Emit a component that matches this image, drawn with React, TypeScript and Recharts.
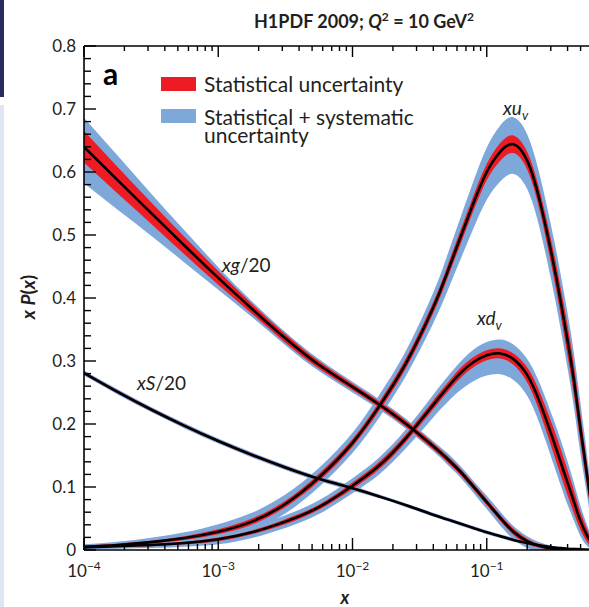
import React from 'react';
import { ComposedChart, Area, Line, XAxis, YAxis } from 'recharts';

// x grid (log-spaced sample points)
const xValues = [1e-4, 1.78e-4, 3.16e-4, 5.62e-4, 1e-3, 1.78e-3, 3.16e-3, 5.62e-3, 1e-2, 1.58e-2, 2.51e-2, 3.98e-2, 5.01e-2, 6.31e-2, 7.94e-2, 0.1, 0.126, 0.158, 0.2, 0.251, 0.316, 0.355, 0.398, 0.447, 0.501, 0.562, 0.631, 0.794, 1.0];

// xg/20
const xgCentral = [0.640, 0.587, 0.535, 0.483, 0.432, 0.383, 0.336, 0.294, 0.259, 0.231, 0.200, 0.165, 0.146, 0.125, 0.101, 0.076, 0.051, 0.029, 0.014, 0.006, 0.002, 0.001, 0, 0, 0, 0, 0, 0, 0];
const xgStat = [0.025, 0.021, 0.017, 0.014, 0.011, 0.008, 0.007, 0.006, 0.005, 0.005, 0.005, 0.005, 0.005, 0.005, 0.005, 0.005, 0.005, 0.005, 0.004, 0.003, 0.002, 0.002, 0.001, 0.001, 0.001, 0.001, 0.001, 0, 0];
const xgTotUp = [0.046, 0.039, 0.031, 0.024, 0.017, 0.012, 0.010, 0.009, 0.008, 0.008, 0.008, 0.008, 0.009, 0.009, 0.009, 0.010, 0.010, 0.009, 0.008, 0.006, 0.004, 0.003, 0.002, 0.002, 0.002, 0.002, 0.002, 0, 0];
const xgTotDown = [0.058, 0.047, 0.036, 0.027, 0.019, 0.013, 0.011, 0.010, 0.009, 0.008, 0.008, 0.008, 0.009, 0.009, 0.010, 0.011, 0.012, 0.012, 0.011, 0.009, 0.006, 0.005, 0.004, 0.003, 0.003, 0.002, 0.002, 0, 0];

// xS/20
const xsCentral = [0.281, 0.251, 0.223, 0.197, 0.173, 0.151, 0.131, 0.113, 0.098, 0.085, 0.071, 0.056, 0.049, 0.042, 0.035, 0.028, 0.022, 0.016, 0.011, 0.007, 0.004, 0.003, 0.002, 0.0015, 0.001, 0.0005, 0, 0, 0];
const xsStat = [0.002, 0.002, 0.002, 0.002, 0.002, 0.002, 0.002, 0.002, 0.002, 0.0015, 0.0015, 0.0015, 0.0015, 0.0015, 0.0015, 0.0015, 0.0015, 0.0015, 0.001, 0.001, 0.001, 0.001, 0.001, 0.001, 0.001, 0.001, 0, 0, 0];
const xsTotUp = [0.004, 0.004, 0.004, 0.004, 0.004, 0.004, 0.004, 0.004, 0.004, 0.003, 0.003, 0.003, 0.003, 0.003, 0.003, 0.003, 0.003, 0.003, 0.002, 0.002, 0.002, 0.002, 0.002, 0.002, 0.002, 0.001, 0, 0, 0];
const xsTotDown = [0.004, 0.004, 0.004, 0.004, 0.004, 0.004, 0.004, 0.004, 0.004, 0.003, 0.003, 0.003, 0.003, 0.003, 0.003, 0.003, 0.003, 0.003, 0.002, 0.002, 0.002, 0.002, 0.002, 0.002, 0.002, 0.001, 0, 0, 0];

// xu_v
const xuvCentral = [0.005, 0.008, 0.0125, 0.019, 0.029, 0.045, 0.073, 0.115, 0.170, 0.228, 0.297, 0.384, 0.437, 0.494, 0.550, 0.600, 0.632, 0.644, 0.618, 0.550, 0.452, 0.395, 0.335, 0.268, 0.190, 0.115, 0.055, 0.012, 0];
const xuvStat = [0.002, 0.002, 0.002, 0.003, 0.004, 0.005, 0.005, 0.006, 0.006, 0.007, 0.008, 0.009, 0.010, 0.011, 0.012, 0.013, 0.014, 0.014, 0.014, 0.016, 0.020, 0.022, 0.024, 0.024, 0.022, 0.018, 0.012, 0.004, 0];
const xuvTotUp = [0.004, 0.005, 0.007, 0.009, 0.012, 0.014, 0.015, 0.015, 0.016, 0.018, 0.020, 0.024, 0.027, 0.031, 0.035, 0.039, 0.042, 0.043, 0.042, 0.041, 0.042, 0.043, 0.044, 0.043, 0.040, 0.032, 0.022, 0.008, 0];
const xuvTotDown = [0.004, 0.005, 0.007, 0.009, 0.012, 0.014, 0.015, 0.015, 0.016, 0.018, 0.020, 0.025, 0.030, 0.035, 0.040, 0.044, 0.047, 0.047, 0.045, 0.044, 0.044, 0.044, 0.044, 0.043, 0.040, 0.032, 0.022, 0.008, 0];

// xd_v
const xdvCentral = [0.004, 0.006, 0.008, 0.011, 0.017, 0.028, 0.045, 0.068, 0.102, 0.134, 0.178, 0.230, 0.256, 0.280, 0.298, 0.309, 0.312, 0.303, 0.278, 0.232, 0.172, 0.140, 0.108, 0.076, 0.045, 0.022, 0.009, 0.001, 0];
const xdvStat = [0.001, 0.001, 0.002, 0.002, 0.003, 0.003, 0.004, 0.004, 0.005, 0.006, 0.006, 0.007, 0.007, 0.008, 0.008, 0.008, 0.008, 0.009, 0.012, 0.016, 0.020, 0.021, 0.020, 0.018, 0.014, 0.010, 0.005, 0.001, 0];
const xdvTotUp = [0.003, 0.004, 0.005, 0.006, 0.008, 0.009, 0.010, 0.011, 0.012, 0.013, 0.014, 0.016, 0.017, 0.018, 0.020, 0.021, 0.022, 0.023, 0.025, 0.030, 0.034, 0.035, 0.034, 0.030, 0.024, 0.016, 0.008, 0.002, 0];
const xdvTotDown = [0.003, 0.004, 0.005, 0.006, 0.008, 0.009, 0.010, 0.011, 0.012, 0.014, 0.016, 0.020, 0.023, 0.027, 0.030, 0.032, 0.033, 0.033, 0.033, 0.035, 0.037, 0.037, 0.035, 0.030, 0.024, 0.016, 0.008, 0.002, 0];

// axis ticks
const xMajorTicks = [1e-4, 1e-3, 1e-2, 1e-1, 1];
const xMajorLabels = ['−4', '−3', '−2', '−1', ''];
const yMajorTicks = [0, 0.1, 0.2, 0.3, 0.4, 0.5, 0.6, 0.7, 0.8];
const yMajorLabels = ['0', '0.1', '0.2', '0.3', '0.4', '0.5', '0.6', '0.7', '0.8'];

const xAllTicks: number[] = [];
[1e-4, 1e-3, 1e-2, 1e-1].forEach((d) => {
  for (let k = 1; k <= 9; k++) xAllTicks.push(+(k * d).toPrecision(3));
});
xAllTicks.push(1);
const yAllTicks: number[] = [];
for (let i = 0; i <= 40; i++) yAllTicks.push(+(i * 0.02).toFixed(2));

const series = [
  { key: 'xg', c: xgCentral, s: xgStat, u: xgTotUp, d: xgTotDown },
  { key: 'xs', c: xsCentral, s: xsStat, u: xsTotUp, d: xsTotDown },
  { key: 'xuv', c: xuvCentral, s: xuvStat, u: xuvTotUp, d: xuvTotDown },
  { key: 'xdv', c: xdvCentral, s: xdvStat, u: xdvTotUp, d: xdvTotDown },
];

const rows = xValues.map((x, i) => {
  const r: any = { x };
  series.forEach((sr) => {
    const c = sr.c[i];
    r[sr.key] = c;
    r[sr.key + 'Stat'] = [c - sr.s[i], c + sr.s[i]];
    r[sr.key + 'Tot'] = [c - sr.d[i], c + sr.u[i]];
  });
  return r;
});

const BLUE = '#7ea8da';
const RED = '#ed1c24';
const INK = '#231f20';
const FONT = 'Lato, "Open Sans", sans-serif';
const CURVE = 'natural';

const isMajorX = (v: number) => xMajorTicks.some((m) => Math.abs(v - m) / m < 1e-6);
const isMajorY = (v: number) => yMajorTicks.some((m) => Math.abs(v - m) < 1e-6);

const XBottomTick = (props: any) => {
  const { x, y, payload } = props;
  const v = payload.value;
  const major = isMajorX(v);
  const idx = xMajorTicks.findIndex((m) => Math.abs(v - m) / m < 1e-6);
  return (
    <g>
      <line x1={x} x2={x} y1={y} y2={y - (major ? 12 : 6)} stroke="#000" strokeWidth={1.4} />
      {major && idx >= 0 && xMajorLabels[idx] !== '' && (
        <text x={x} y={y + 27} textAnchor="middle" fontFamily={FONT} fontSize={17} fill={INK}>
          10
          <tspan dy={-7} fontSize={12}>{xMajorLabels[idx]}</tspan>
        </text>
      )}
    </g>
  );
};

const XTopTick = (props: any) => {
  const { x, y, payload } = props;
  const major = isMajorX(payload.value);
  return <line x1={x} x2={x} y1={y} y2={y + (major ? 11 : 5)} stroke="#000" strokeWidth={1.4} />;
};

const YLeftTick = (props: any) => {
  const { x, y, payload } = props;
  const v = payload.value;
  const major = isMajorY(v);
  const idx = yMajorTicks.findIndex((m) => Math.abs(v - m) < 1e-6);
  return (
    <g>
      <line x1={x} x2={x + (major ? 12 : 7)} y1={y} y2={y} stroke="#000" strokeWidth={1.4} />
      {major && idx >= 0 && (
        <text x={x - 8} y={y} dy="0.36em" textAnchor="end" fontFamily={FONT} fontSize={17} fill={INK}>
          {yMajorLabels[idx]}
        </text>
      )}
    </g>
  );
};

export default function App() {
  return (
    <div style={{ position: 'fixed', left: 0, top: 0, width: 589, height: 607, overflow: 'hidden', background: '#fff' }}>
      <div style={{ position: 'absolute', left: 0, top: 0, width: 4, height: 97, background: '#2b2a5c' }} />
      <div style={{ position: 'absolute', left: 0, top: 105, width: 4, height: 502, background: '#dfe6f1' }} />
      <div style={{ position: 'absolute', left: 0, top: 0 }}>
        <ComposedChart width={640} height={607} data={rows} margin={{ top: 26, right: 19, bottom: 27, left: 24 }}>
          <XAxis
            xAxisId="b"
            dataKey="x"
            type="number"
            scale="log"
            domain={[1e-4, 1]}
            allowDataOverflow
            ticks={xAllTicks}
            interval={0}
            tickSize={0}
            tickMargin={0}
            tickLine={false}
            tick={<XBottomTick />}
            axisLine={{ stroke: '#000', strokeWidth: 1.6 }}
            height={30}
          />
          <XAxis
            xAxisId="t"
            orientation="top"
            dataKey="x"
            type="number"
            scale="log"
            domain={[1e-4, 1]}
            allowDataOverflow
            ticks={xAllTicks}
            interval={0}
            tickSize={0}
            tickMargin={0}
            tickLine={false}
            tick={<XTopTick />}
            axisLine={{ stroke: '#000', strokeWidth: 1.6 }}
            height={20}
          />
          <YAxis
            yAxisId="l"
            type="number"
            domain={[0, 0.8]}
            allowDataOverflow
            ticks={yAllTicks}
            interval={0}
            tickSize={0}
            tickMargin={0}
            tickLine={false}
            tick={<YLeftTick />}
            axisLine={{ stroke: '#000', strokeWidth: 1.6 }}
            width={60}
          />
          {series.map((sr) => (
            <Area
              key={sr.key + 'Tot'}
              xAxisId="b"
              yAxisId="l"
              dataKey={sr.key + 'Tot'}
              type={CURVE}
              stroke="none"
              fill={BLUE}
              fillOpacity={1}
              isAnimationActive={false}
              dot={false}
              activeDot={false}
            />
          ))}
          {series.map((sr) => (
            <Area
              key={sr.key + 'Stat'}
              xAxisId="b"
              yAxisId="l"
              dataKey={sr.key + 'Stat'}
              type={CURVE}
              stroke="none"
              fill={RED}
              fillOpacity={1}
              isAnimationActive={false}
              dot={false}
              activeDot={false}
            />
          ))}
          {series.map((sr) => (
            <Line
              key={sr.key}
              xAxisId="b"
              yAxisId="l"
              dataKey={sr.key}
              type={CURVE}
              stroke="#000"
              strokeWidth={2.6}
              dot={false}
              activeDot={false}
              isAnimationActive={false}
            />
          ))}
        </ComposedChart>
      </div>
      <svg width={589} height={607} style={{ position: 'absolute', left: 0, top: 0, pointerEvents: 'none' }} fontFamily={FONT} fill={INK}>
        <text x={254} y={28} fontSize={18} fontWeight="bold">
          H1PDF 2009; <tspan fontStyle="italic">Q</tspan>
          <tspan dy={-7} fontSize={12}>2</tspan>
          <tspan dy={7}> = 10 GeV</tspan>
          <tspan dy={-7} fontSize={12}>2</tspan>
        </text>
        <text x={103} y={85} fontSize={30} fontWeight="bold" fill="#000">a</text>
        <rect x={161} y={77} width={35} height={14} fill={RED} />
        <rect x={161} y={109} width={35} height={14} fill={BLUE} />
        <text x={204} y={92} fontSize={21}>Statistical uncertainty</text>
        <text x={204} y={125} fontSize={21}>Statistical + systematic</text>
        <text x={204} y={143} fontSize={21}>uncertainty</text>
        <text x={222} y={272} fontSize={19}>
          <tspan fontStyle="italic">xg</tspan>/20
        </text>
        <text x={137} y={390} fontSize={19}>
          <tspan fontStyle="italic">xS</tspan>/20
        </text>
        <text x={503} y={115} fontSize={19} fontStyle="italic">
          xu<tspan dy={5} fontSize={13}>v</tspan>
        </text>
        <text x={477} y={325} fontSize={19} fontStyle="italic">
          xd<tspan dy={5} fontSize={13}>v</tspan>
        </text>
        <text x={345} y={604} fontSize={18} fontWeight="bold" fontStyle="italic" textAnchor="middle">x</text>
        <text transform="rotate(-90 28 297)" x={28} y={297} dy="0.35em" fontSize={19} fontWeight="bold" textAnchor="middle">
          <tspan fontStyle="italic">x</tspan> <tspan fontStyle="italic">P</tspan>(<tspan fontStyle="italic">x</tspan>)
        </text>
      </svg>
    </div>
  );
}
